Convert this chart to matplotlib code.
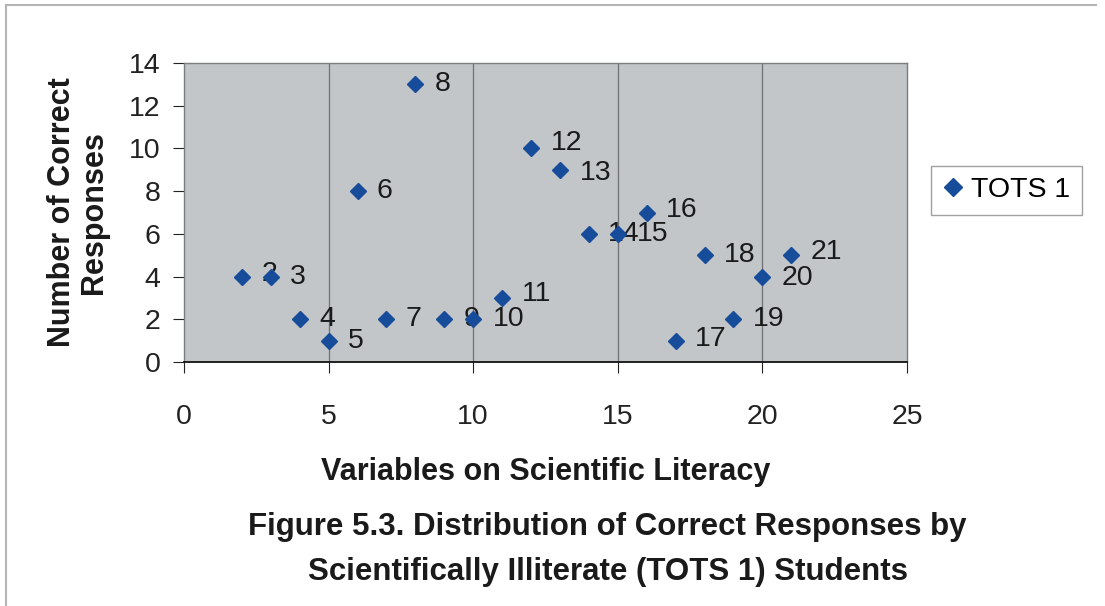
import matplotlib.pyplot as plt
from matplotlib.lines import Line2D

plt.rcParams['font.family'] = ['Liberation Sans', 'DejaVu Sans']

# one point per scientific-literacy variable; the label is the variable number
variables = [2, 3, 4, 5, 6, 7, 8, 9, 10, 11, 12, 13, 14, 15, 16, 17, 18, 19, 20, 21]
correct = [4, 4, 2, 1, 8, 2, 13, 2, 2, 3, 10, 9, 6, 6, 7, 1, 5, 2, 4, 5]
series_name = 'TOTS 1'

# small vertical nudges (points) for a few data labels
label_nudge = {11: 3, 12: 4, 13: -2, 16: 2, 17: 1, 20: -1, 21: 2, 2: 2}

fig = plt.figure(figsize=(11.05, 6.06), dpi=100)
ax = fig.add_axes([0.1665, 0.4026, 0.6543, 0.4934])

ax.set_facecolor('#c3c6c9')
for x in [5, 10, 15, 20]:
    ax.axvline(x, color='#6e7072', lw=0.9, zorder=1)

for x, y in zip(variables, correct):
    ax.annotate(str(x), (x, y), xytext=(14, label_nudge.get(x, 0)),
                textcoords='offset points', ha='left', va='center',
                fontsize=20.5, color='#1a1a1a', zorder=2)

ax.plot(variables, correct, 'D', color='#174c9a', ms=8.5, mec='#174c9a',
        label=series_name, zorder=3)

ax.set_xlim(0, 25)
ax.set_ylim(0, 14)
ax.set_xticks(range(0, 26, 5))
ax.set_yticks(range(0, 15, 2))
ax.tick_params(axis='x', direction='out', length=8, pad=22, labelsize=20.5,
               colors='#222222')
ax.tick_params(axis='y', direction='out', length=8, pad=9, labelsize=20.5,
               colors='#222222')

for side in ['top', 'right', 'left']:
    ax.spines[side].set_color('#7a7c7e')
    ax.spines[side].set_linewidth(1.0)
ax.spines['bottom'].set_color('#111111')
ax.spines['bottom'].set_linewidth(1.3)

ax.set_xlabel('Variables on Scientific Literacy', fontsize=22,
              fontweight='bold', labelpad=20, color='#1a1a1a')
ax.set_ylabel('Number of Correct\nResponses', fontsize=22,
              fontweight='bold', labelpad=14, color='#1a1a1a',
              linespacing=1.1)

leg = fig.legend(loc='center', bbox_to_anchor=(0.911, 0.686), fontsize=20.5,
                 frameon=True, fancybox=False, handlelength=0.7,
                 handletextpad=0.3, borderpad=0.4, markerscale=1.1)
leg.get_frame().set_edgecolor('#8a8a8a')
leg.get_frame().set_linewidth(1.0)

fig.text(0.55, 0.093, 'Figure 5.3. Distribution of Correct Responses by\n'
         'Scientifically Illiterate (TOTS 1) Students',
         ha='center', va='center', fontsize=22.5, fontweight='bold',
         color='#1a1a1a', linespacing=1.65)

# thin frame on the left and top edges of the figure
fig.add_artist(Line2D([0.005, 0.005], [0.0, 0.992], color='#b5b5b5', lw=1.5,
                      transform=fig.transFigure))
fig.add_artist(Line2D([0.005, 0.992], [0.992, 0.992], color='#b5b5b5', lw=1.5,
                      transform=fig.transFigure))

fig.savefig('out.png', dpi=100)
